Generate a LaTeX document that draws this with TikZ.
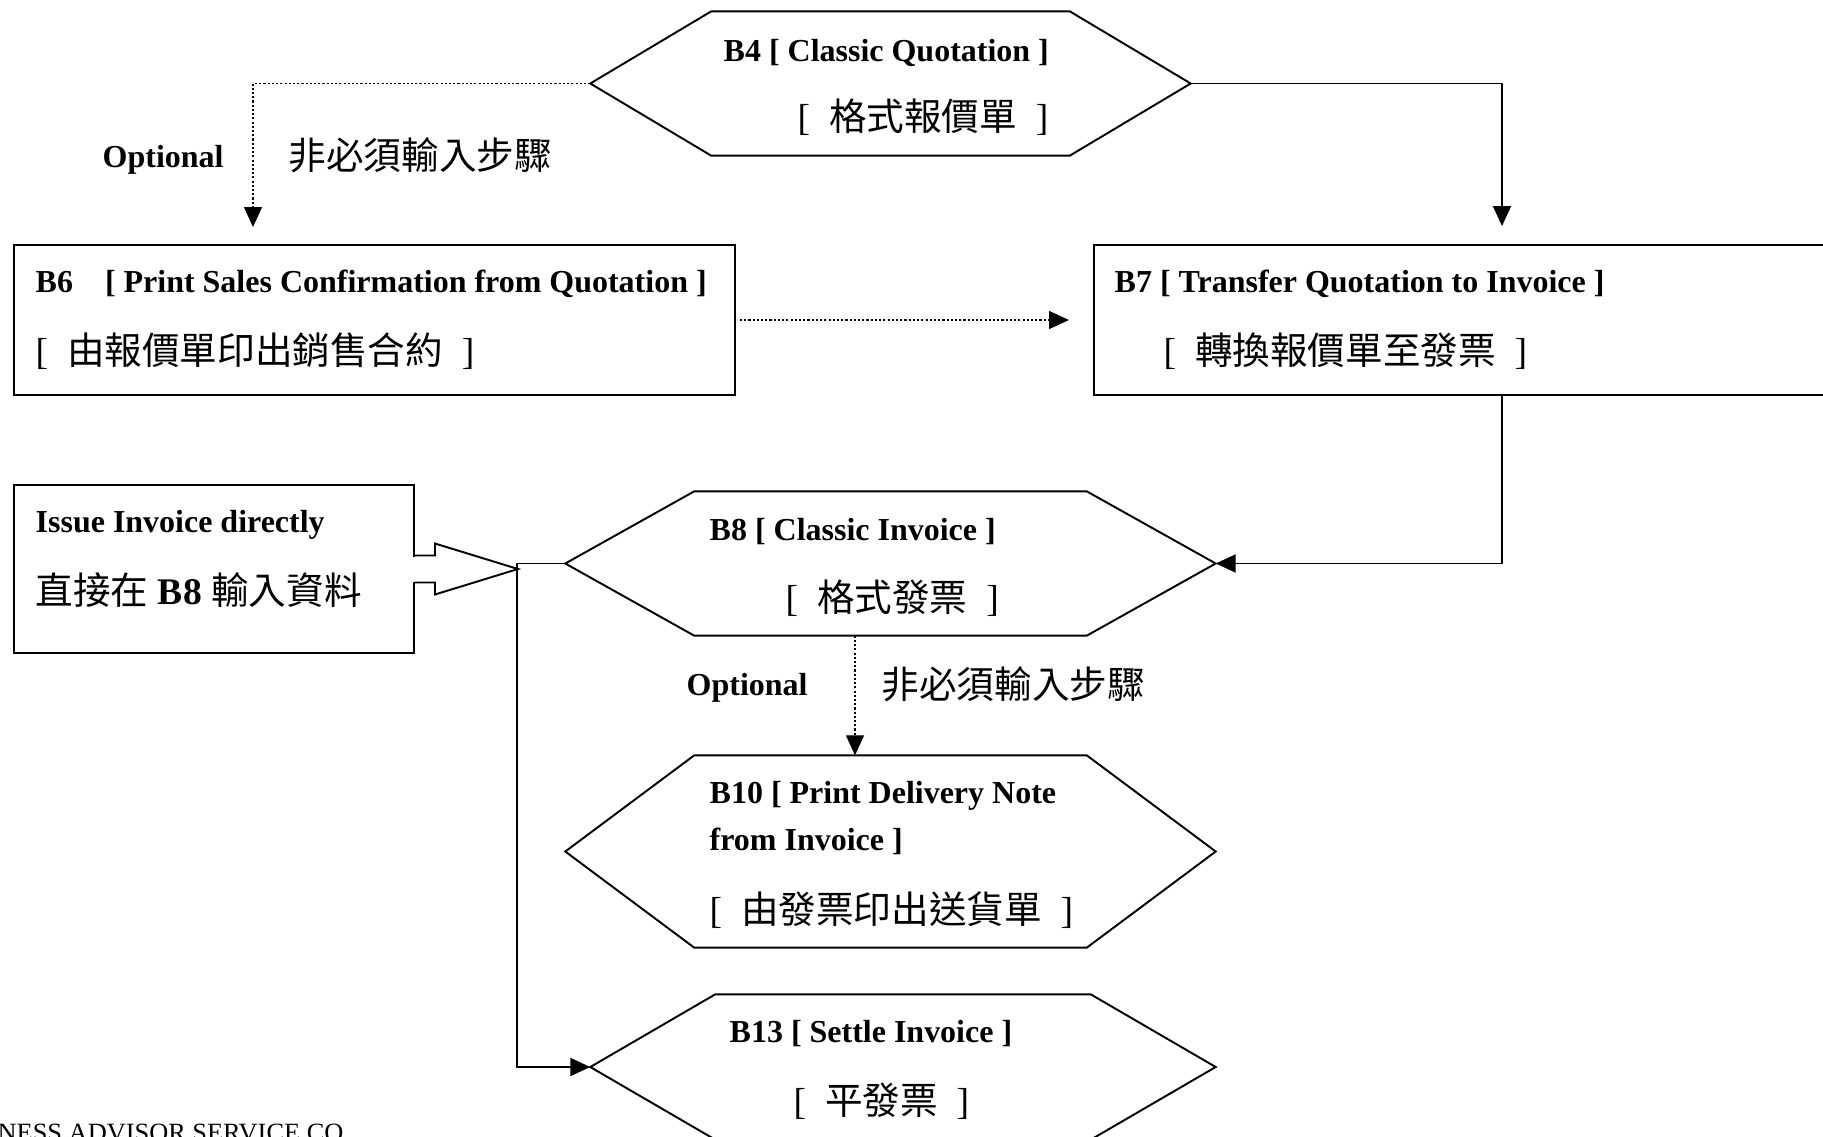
\documentclass[tikz,border=0pt]{standalone}
\usepackage{fontspec}
\setmainfont{Liberation Serif}
\newfontfamily\cjk{Noto Sans CJK TC}
\usetikzlibrary{arrows.meta,calc}

\begin{document}
\begin{tikzpicture}[x=1cm,y=1cm,
  box/.style={draw,line width=0.55pt,inner sep=0pt},
  hexbox/.style={inner sep=0pt},
  en/.style={font=\fontsize{9.1}{11}\selectfont\bfseries,anchor=base west,inner sep=0pt},
  zh/.style={font=\fontsize{10.7}{13}\selectfont,anchor=base west,inner sep=0pt},
  flow/.style={line width=0.55pt,-{Triangle[length=0.2cm,width=0.18cm]}},
  optflow/.style={line width=0.35pt,dash pattern=on 0.6pt off 0.6pt,-{Triangle[length=0.2cm,width=0.18cm]}}]
\useasboundingbox (0,0) rectangle (18.23,-11.37);
\clip (0,0) rectangle (18.23,-11.37);
% boxes
\node[box,minimum width=7.21cm,minimum height=1.5cm] (b6) at (3.745,-3.2) {};
\node[box,minimum width=8.16cm,minimum height=1.5cm] (b7) at (15.02,-3.2) {};
\node[box,minimum width=4cm,minimum height=1.68cm] (issue) at (2.14,-5.69) {};
% hexagons
\node[hexbox,minimum width=5.99cm,minimum height=1.43cm] (b4) at (8.905,-0.835) {};
\node[hexbox,minimum width=6.49cm,minimum height=1.43cm] (b8) at (8.905,-5.635) {};
\node[hexbox,minimum width=6.49cm,minimum height=1.91cm] (b10) at (8.905,-8.515) {};
\node[hexbox,minimum width=6.24cm,minimum height=1.44cm] (b13) at (9.03,-10.67) {};
\foreach \n/\p in {b4/1.21,b8/1.29,b10/1.29,b13/1.25}
  \draw[line width=0.55pt] (\n.west) -- ([xshift=\p cm]\n.north west) -- ([xshift=-\p cm]\n.north east)
    -- (\n.east) -- ([xshift=-\p cm]\n.south east) -- ([xshift=\p cm]\n.south west) -- cycle;
% texts
\node[en] (t4a) at (7.23,-0.61) {B4 [ Classic Quotation ]};
\node[zh] (t4b) at (7.97,-1.30) {[\ \ {\cjk 格式報價單}\ \ ]};
\node[en] (t6a) at (0.35,-2.92) {B6\quad[ Print Sales Confirmation from Quotation ]};
\node[zh] (t6b) at (0.35,-3.64) {[\ \ {\cjk 由報價單印出銷售合約}\ \ ]};
\node[en] (t7a) at (11.14,-2.92) {B7 [ Transfer Quotation to Invoice ]};
\node[zh] (t7b) at (11.63,-3.64) {[\ \ {\cjk 轉換報價單至發票}\ \ ]};
\node[en] (tia) at (0.35,-5.32) {Issue Invoice directly};
\node[zh] (tib) at (0.35,-6.04) {{\cjk 直接在} \textbf{B8} {\cjk 輸入資料}};
\node[en] (t8a) at (7.09,-5.40) {B8 [ Classic Invoice ]};
\node[zh] (t8b) at (7.85,-6.11) {[\ \ {\cjk 格式發票}\ \ ]};
\node[en] (t10a) at (7.09,-8.03) {B10 [ Print Delivery Note};
\node[en] (t10b) at (7.09,-8.50) {from Invoice ]};
\node[zh] (t10c) at (7.09,-9.23) {[\ \ {\cjk 由發票印出送貨單}\ \ ]};
\node[en] (t13a) at (7.29,-10.42) {B13 [ Settle Invoice ]};
\node[zh] (t13b) at (7.93,-11.14) {[\ \ {\cjk 平發票}\ \ ]};
\node[en] (opt1) at (1.02,-1.67) {Optional};
\node[zh] (nopt1) at (2.88,-1.69) {\cjk 非必須輸入步驟};
\node[en] (opt2) at (6.86,-6.95) {Optional};
\node[zh] (nopt2) at (8.81,-6.98) {\cjk 非必須輸入步驟};
\node[font=\fontsize{7.5}{9}\selectfont,anchor=base west,inner sep=0pt] (foot) at (-0.03,-11.41) {NESS ADVISOR SERVICE CO};
% connectors
\coordinate (c6) at (2.53,-2.45);
\draw[optflow,shorten >=0.18cm] (b4.west) -| (c6);
\draw[flow,shorten >=0.18cm] (b4.east) -| (b7.north);
\draw[optflow,shorten <=0.04cm,shorten >=0.24cm] (b6) -- (b7);
\draw[flow] (b7.south) |- (b8.east);
\draw[optflow] ($(b8.south)+(-0.355,0)$) -- ($(b10.north)+(-0.355,0)$);
\draw[flow] (b8.west) -- ++(-0.48,0) |- (b13.west);
% block arrow out of the left box
\fill[white] ($(issue.east)+(-0.02,0.125)$) rectangle ($(issue.east)+(0.02,-0.125)$);
\draw[line width=0.55pt] ($(issue.east)+(0,0.135)$) -- ++(0.2,0) -- ++(0,0.12) -- ++(0.83,-0.255)
  -- ++(-0.83,-0.255) -- ++(0,0.12) -- ++(-0.2,0);
\end{tikzpicture}
\end{document}
